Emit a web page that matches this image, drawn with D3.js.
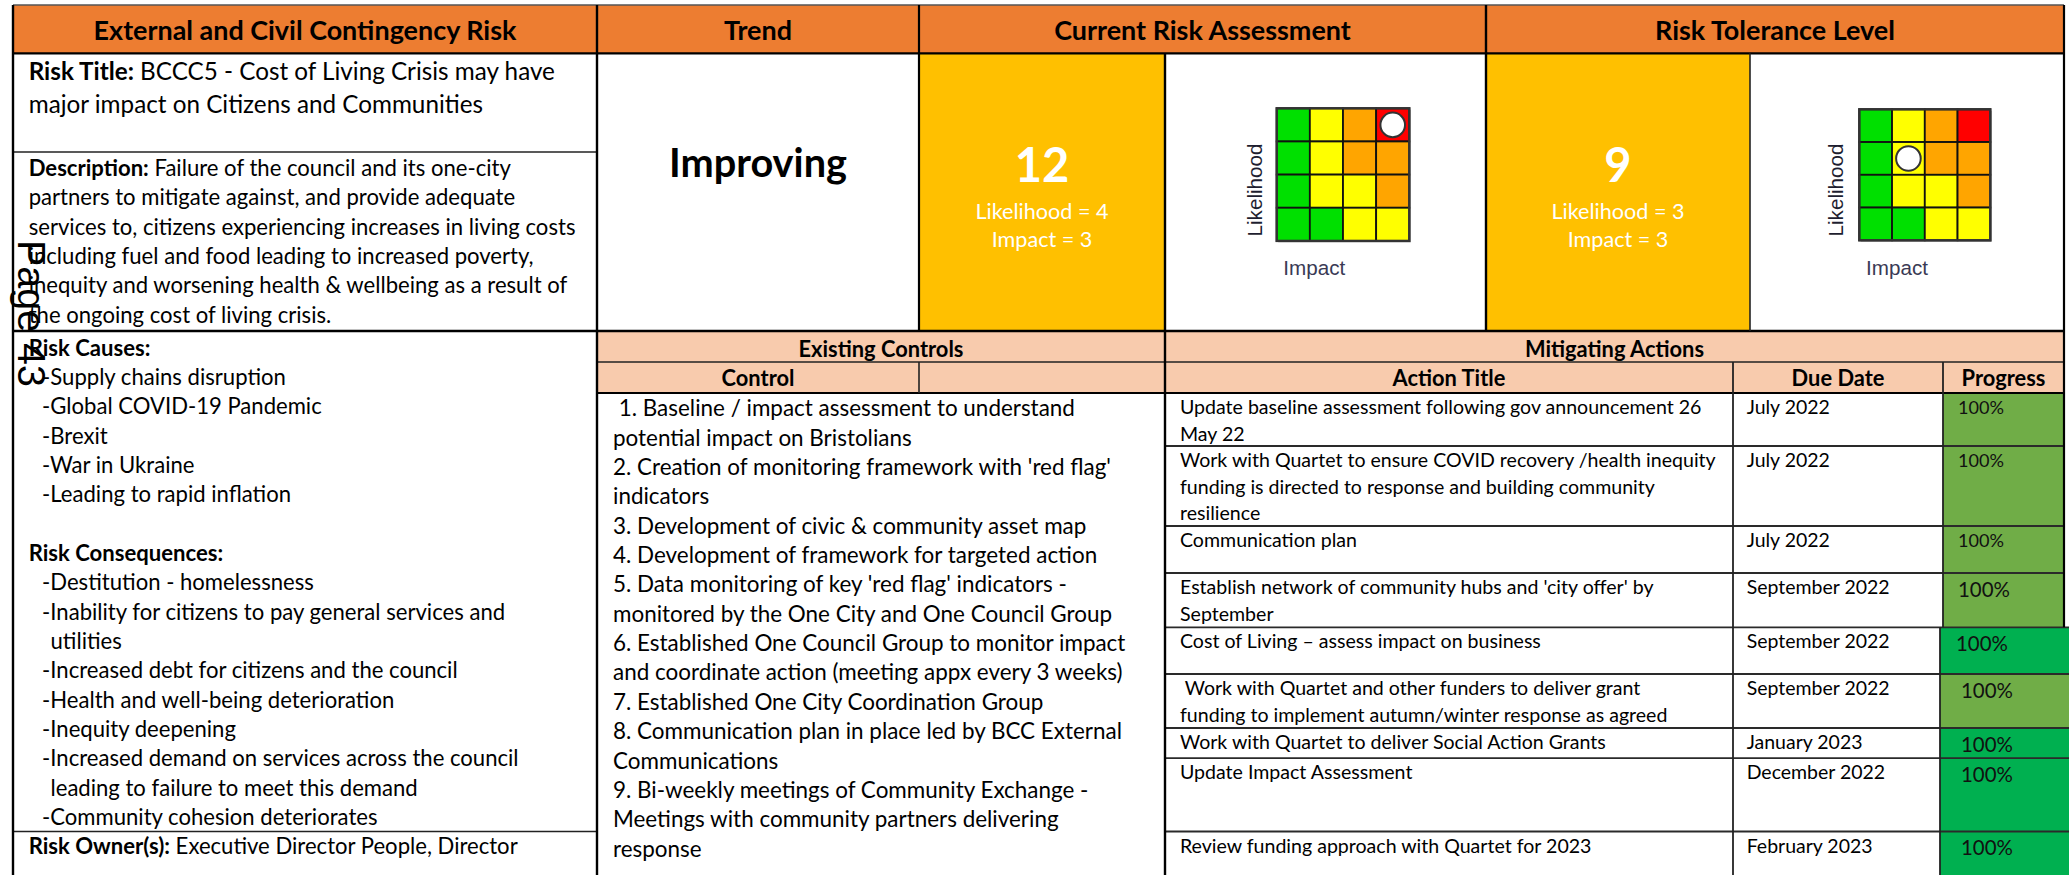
<!DOCTYPE html>
<html><head><meta charset="utf-8">
<script src="https://cdn.jsdelivr.net/npm/d3@7"></script>
<style>html,body{margin:0;padding:0;background:#fff;overflow:hidden}</style>
</head><body>
<script>
// ---------------- DATA ----------------
const headerTitles = ["External and Civil Contingency Risk", "Trend", "Current Risk Assessment", "Risk Tolerance Level"];
const riskTitleLabel = "Risk Title:";
const riskTitleLines = [" BCCC5 - Cost of Living Crisis may have", "major impact on Citizens and Communities"];
const descriptionLabel = "Description:";
const descriptionLines = [" Failure of the council and its one-city",
  "partners to mitigate against, and provide adequate",
  "services to, citizens experiencing increases in living costs",
  "including fuel and food leading to increased poverty,",
  "inequity and worsening health & wellbeing as a result of",
  "the ongoing cost of living crisis."];
const causesLabel = "Risk Causes:";
const causes = [["-Supply chains disruption"], ["-Global COVID-19 Pandemic"], ["-Brexit"], ["-War in Ukraine"], ["-Leading to rapid inflation"]];
const consequencesLabel = "Risk Consequences:";
const consequences = [["-Destitution - homelessness"],
  ["-Inability for citizens to pay general services and", "utilities"],
  ["-Increased debt for citizens and the council"],
  ["-Health and well-being deterioration"],
  ["-Inequity deepening"],
  ["-Increased demand on services across the council", "leading to failure to meet this demand"],
  ["-Community cohesion deteriorates"]];
const ownerLabel = "Risk Owner(s):";
const ownerText = " Executive Director People, Director";
const trendText = "Improving";
const currentRisk = {score: 12, likelihood: 4, impact: 3};
const toleranceRisk = {score: 9, likelihood: 3, impact: 3};
const currentMarker = {likelihood: 4, impact: 4};
const toleranceMarker = {likelihood: 3, impact: 2};
const likelihoodLevels = [4, 3, 2, 1];
const impactLevels = [1, 2, 3, 4];
const ratingGrid = [[1, 2, 3, 4], [1, 2, 3, 3], [1, 2, 2, 3], [1, 1, 2, 2]]; // rows = likelihood 4..1
const sectionHeaders = ["Existing Controls", "Mitigating Actions"];
const subHeaders = ["Control", "Action Title", "Due Date", "Progress"];
const controlLines = [" 1. Baseline / impact assessment to understand",
  "potential impact on Bristolians",
  "2. Creation of monitoring framework with 'red flag'",
  "indicators",
  "3. Development of civic & community asset map",
  "4. Development of framework for targeted action",
  "5. Data monitoring of key 'red flag' indicators -",
  "monitored by the One City and One Council Group",
  "6. Established One Council Group to monitor impact",
  "and coordinate action (meeting appx every 3 weeks)",
  "7. Established One City Coordination Group",
  "8. Communication plan in place led by BCC External",
  "Communications",
  "9. Bi-weekly meetings of Community Exchange -",
  "Meetings with community partners delivering",
  "response"];
const actionTitles = [
  ["Update baseline assessment following gov announcement 26", "May 22"],
  ["Work with Quartet to ensure COVID recovery /health inequity", "funding is directed to response and building community", "resilience"],
  ["Communication plan"],
  ["Establish network of community hubs and 'city offer' by", "September"],
  ["Cost of Living \u2013 assess impact on business"],
  [" Work with Quartet and other funders to deliver grant", "funding to implement autumn/winter response as agreed"],
  ["Work with Quartet to deliver Social Action Grants"],
  ["Update Impact Assessment"],
  ["Review funding approach with Quartet for 2023"]];
const dueDates = ["July 2022", "July 2022", "July 2022", "September 2022", "September 2022", "September 2022", "January 2023", "December 2022", "February 2023"];
const progressValues = [100, 100, 100, 100, 100, 100, 100, 100, 100];

// ---------------- LAYOUT / STYLE ----------------
const W = 2069, H = 875;
const X = {L: 13, c1: 597, c2: 919, c3: 1165, c4: 1486, c5: 1750, R: 2064};
const Y = {top: 5, h1: 53.3, title: 152, mid: 331, p1: 362, p2: 393};
const AX = {due: 1733, prog: 1943, progLow: 1940};
const rowEdges = [393, 446, 526, 573, 627.3, 674, 728, 758.2, 831.5, 880];
const progressFill = ["#70AD47", "#70AD47", "#70AD47", "#70AD47", "#00B050", "#70AD47", "#00B050", "#00B050", "#00B050"];
const progressWide = [false, false, false, false, true, true, true, true, true];
const progressBig = [false, false, false, true, true, true, true, true, true];
const progressTextX = [1958, 1958, 1958, 1958, 1956, 1961, 1961, 1961, 1961];
const levelColors = {1: "#00E000", 2: "#FFFF00", 3: "#FFA500", 4: "#FF0000"};
const C = {orange: "#ED7D31", yellow: "#FFC000", peach: "#F8CBAD", line: "#000", text: "#000"};

const svg = d3.select("body").append("svg").attr("width", W).attr("height", H)
  .style("display", "block").style("background", "#fff");

function fit(str, target, weight = "normal", family = "Lato") {
  const t = svg.append("text").attr("font-family", family).attr("font-weight", weight)
    .attr("font-size", 100).style("white-space", "pre").text(str);
  const w = t.node().getComputedTextLength();
  t.remove();
  return 100 * target / w;
}
function fitLabelled(label, rest, target) {
  const t = svg.append("text").attr("font-family", "Lato").attr("font-size", 100).style("white-space", "pre");
  t.append("tspan").attr("font-weight", "bold").text(label);
  t.append("tspan").text(rest);
  const w = t.node().getComputedTextLength();
  t.remove();
  return 100 * target / w;
}
function txt(g, x, y, s, o = {}) {
  return g.append("text").attr("x", x).attr("y", y).text(s)
    .attr("font-family", o.family || "Lato").attr("font-size", o.size)
    .attr("font-weight", o.weight || "normal").attr("text-anchor", o.anchor || "start")
    .attr("fill", o.fill || C.text).style("white-space", "pre");
}
function labelled(g, x, y, label, rest, size) {
  const t = g.append("text").attr("x", x).attr("y", y).attr("font-family", "Lato")
    .attr("font-size", size).attr("fill", C.text).style("white-space", "pre");
  t.append("tspan").attr("font-weight", "bold").text(label);
  t.append("tspan").text(rest);
  return t;
}
function line(g, x1, y1, x2, y2, w = 2, c = C.line) {
  g.append("line").attr("x1", x1).attr("y1", y1).attr("x2", x2).attr("y2", y2)
    .attr("stroke", c).attr("stroke-width", w);
}

function draw() {
  const S = {
    h1: fit(headerTitles[0], 423, "bold"),
    title: (fit(riskTitleLines[1], 462) + fitLabelled(riskTitleLabel, riskTitleLines[0], 518)) / 2,
    body: fit(descriptionLines[2], 547),
    ctrl: fit(controlLines[9], 510),
    act: fit(actionTitles[1][0], 536),
    due: fit("September 2022", 143),
    progS: fit("100%", 46),
    progL: fit("100%", 52),
    trend: fit(trendText, 178, "bold"),
    score: 47,
    lik: fit("Likelihood = 4", 133),
    sec: fit(sectionHeaders[0], 165, "bold"),
    mlab: fit("Likelihood", 93, "normal", "Liberation Sans"),
    page: fit("Page 43", 147, "normal", "Liberation Sans")
  };
  const fills = svg.append("g"), lines = svg.append("g"), texts = svg.append("g");

  // fills
  fills.append("rect").attr("x", X.L).attr("y", Y.top).attr("width", X.R - X.L).attr("height", Y.h1 - Y.top).attr("fill", C.orange);
  fills.append("rect").attr("x", X.c2).attr("y", Y.h1).attr("width", X.c3 - X.c2).attr("height", Y.mid - Y.h1).attr("fill", C.yellow);
  fills.append("rect").attr("x", X.c4).attr("y", Y.h1).attr("width", X.c5 - X.c4).attr("height", Y.mid - Y.h1).attr("fill", C.yellow);
  fills.append("rect").attr("x", X.c1).attr("y", Y.mid).attr("width", X.R - X.c1).attr("height", Y.p2 - Y.mid).attr("fill", C.peach);
  progressValues.forEach((v, i) => {
    const x0 = progressWide[i] ? AX.progLow : AX.prog, x1 = progressWide[i] ? W : X.R;
    fills.append("rect").attr("x", x0).attr("y", rowEdges[i]).attr("width", x1 - x0)
      .attr("height", rowEdges[i + 1] - rowEdges[i]).attr("fill", progressFill[i]);
  });

  // header row
  const hx = [[X.L, X.c1], [X.c1, X.c2], [X.c2, X.c4], [X.c4, X.R]];
  headerTitles.forEach((h, i) => txt(texts, (hx[i][0] + hx[i][1]) / 2, 39.5, h, {size: S.h1, weight: "bold", anchor: "middle"}));

  // risk title & description
  riskTitleLines.forEach((l, i) => {
    if (i === 0) labelled(texts, 28.7, 80, riskTitleLabel, l, S.title);
    else txt(texts, 28.7, 80 + 33.3 * i, l, {size: S.title});
  });
  descriptionLines.forEach((l, i) => {
    if (i === 0) labelled(texts, 28.7, 175.7, descriptionLabel, l, S.body);
    else txt(texts, 28.7, 175.7 + 29.4 * i, l, {size: S.body});
  });

  // left column lower
  const ls = 29.35; let li = 0; const by = 355.5;
  txt(texts, 28.7, by, causesLabel, {size: S.body, weight: "bold"}); li++;
  causes.forEach(item => item.forEach((l, k) => { txt(texts, k ? 50.5 : 42.1, by + ls * li, l, {size: S.body}); li++; }));
  li++;
  txt(texts, 28.7, by + ls * li, consequencesLabel, {size: S.body, weight: "bold"}); li++;
  consequences.forEach(item => item.forEach((l, k) => { txt(texts, k ? 50.5 : 42.1, by + ls * li, l, {size: S.body}); li++; }));
  labelled(texts, 28.7, by + ls * li, ownerLabel, ownerText, S.body);

  // trend
  txt(texts, 758, 177, trendText, {size: S.trend, weight: "bold", anchor: "middle"});

  // scores
  [[currentRisk, 1042], [toleranceRisk, 1618]].forEach(([r, cx]) => {
    txt(texts, cx, 182, String(r.score), {size: S.score, weight: "bold", anchor: "middle", fill: "#fff"});
    txt(texts, cx, 218.5, "Likelihood = " + r.likelihood, {size: S.lik, anchor: "middle", fill: "#fff"});
    txt(texts, cx, 247, "Impact = " + r.impact, {size: S.lik, anchor: "middle", fill: "#fff"});
  });

  // matrices
  function matrix(gx, gy, size, marker, labX, impX) {
    const g = svg.append("g");
    const x = d3.scaleBand().domain(impactLevels).range([gx, gx + size]);
    const y = d3.scaleBand().domain(likelihoodLevels).range([gy, gy + size]);
    const cells = ratingGrid.flatMap((row, i) => row.map((lvl, j) => ({l: likelihoodLevels[i], im: impactLevels[j], lvl})));
    g.append("rect").attr("x", gx + 1.5).attr("y", gy + 1.5).attr("width", size).attr("height", size).attr("fill", "#bbb");
    g.selectAll("rect.c").data(cells).join("rect").attr("class", "c")
      .attr("x", d => x(d.im)).attr("y", d => y(d.l)).attr("width", x.bandwidth()).attr("height", y.bandwidth())
      .attr("fill", d => levelColors[d.lvl]).attr("stroke", "#111").attr("stroke-width", 1.8);
    g.append("rect").attr("x", gx).attr("y", gy).attr("width", size).attr("height", size)
      .attr("fill", "none").attr("stroke", "#333").attr("stroke-width", 2.4);
    g.append("circle").attr("cx", x(marker.impact) + x.bandwidth() / 2).attr("cy", y(marker.likelihood) + y.bandwidth() / 2)
      .attr("r", 12.3).attr("fill", "#fff").attr("stroke", "#333").attr("stroke-width", 2);
    g.append("text").attr("transform", `translate(${labX},190) rotate(-90)`).attr("text-anchor", "middle")
      .attr("font-family", "Liberation Sans").attr("font-size", S.mlab).attr("fill", "#1e1e30").text("Likelihood");
    g.append("text").attr("x", impX).attr("y", 275).attr("font-family", "Liberation Sans")
      .attr("font-size", S.mlab).attr("fill", "#3a3a55").text("Impact");
  }
  matrix(1276.7, 108.3, 132.6, currentMarker, 1261.7, 1283.3);
  matrix(1859.3, 109.3, 131, toleranceMarker, 1843.3, 1866);

  // section headers
  txt(texts, (X.c1 + X.c3) / 2, 356.5, sectionHeaders[0], {size: S.sec, weight: "bold", anchor: "middle"});
  txt(texts, (X.c3 + X.R) / 2, 356.5, sectionHeaders[1], {size: S.sec, weight: "bold", anchor: "middle"});
  txt(texts, (X.c1 + X.c2) / 2, 386, subHeaders[0], {size: S.sec, weight: "bold", anchor: "middle"});
  txt(texts, (X.c3 + AX.due) / 2, 386, subHeaders[1], {size: S.sec, weight: "bold", anchor: "middle"});
  txt(texts, (AX.due + AX.prog) / 2, 386, subHeaders[2], {size: S.sec, weight: "bold", anchor: "middle"});
  txt(texts, (AX.prog + X.R) / 2, 386, subHeaders[3], {size: S.sec, weight: "bold", anchor: "middle"});

  // controls
  controlLines.forEach((l, i) => txt(texts, 613, 416.3 + 29.35 * i, l, {size: S.ctrl}));

  // actions
  actionTitles.forEach((lines_, i) => {
    lines_.forEach((l, k) => txt(texts, 1180, rowEdges[i] + 21 + 26.5 * k, l, {size: S.act}));
    txt(texts, 1746.7, rowEdges[i] + 21, dueDates[i], {size: S.due});
    txt(texts, progressTextX[i], rowEdges[i] + (progressBig[i] ? 23.5 : 20.5), progressValues[i] + "%",
      {size: progressBig[i] ? S.progL : S.progS, fill: "#111"});
  });

  // lines
  line(lines, X.L, Y.top, X.R, Y.top, 1.5, "#555");
  line(lines, X.L, Y.h1, X.R, Y.h1, 2.2);
  line(lines, X.L, Y.title, X.c1, Y.title, 1.6, "#222");
  line(lines, X.L, Y.mid, X.R, Y.mid, 2.4);
  line(lines, X.c1, Y.p1, X.R, Y.p1, 1.6, "#222");
  line(lines, X.c1, Y.p2, X.R, Y.p2, 2);
  line(lines, X.L, 831.5, X.c1, 831.5, 1.6, "#222");
  rowEdges.slice(1, -1).forEach((y, i) => line(lines, X.c3, y, i < 3 ? X.R : W, y, 1.8, "#2a2a2a"));
  line(lines, X.L, Y.top, X.L, H, 2.4);
  line(lines, X.c1, Y.top, X.c1, H, 2.4);
  line(lines, X.c2, Y.top, X.c2, Y.mid, 2.2);
  line(lines, X.c2, Y.p1, X.c2, Y.p2, 1.6, "#222");
  line(lines, X.c3, Y.h1, X.c3, H, 2.4);
  line(lines, X.c4, Y.top, X.c4, Y.mid, 2.4);
  line(lines, X.c5, Y.h1, X.c5, Y.mid, 1.6, "#222");
  line(lines, X.R, Y.top, X.R, rowEdges[4], 2.2);
  line(lines, AX.due, Y.p1, AX.due, H, 1.8, "#222");
  line(lines, AX.prog, Y.p1, AX.prog, rowEdges[4], 1.8, "#222");
  line(lines, AX.progLow, rowEdges[4], AX.progLow, H, 1.8, "#222");

  // page marker
  svg.append("text").attr("transform", "translate(18,240) rotate(90)")
    .attr("font-family", "Liberation Sans").attr("font-size", S.page).attr("fill", "#000").text("Page 43");
}
(document.fonts && document.fonts.ready ? document.fonts.ready : Promise.resolve()).then(draw);
</script>
</body></html>
